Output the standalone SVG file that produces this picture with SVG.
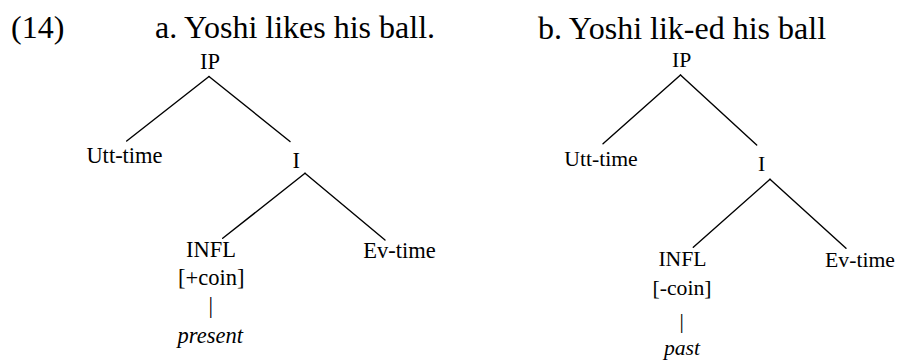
<svg xmlns="http://www.w3.org/2000/svg" width="897" height="360" viewBox="0 0 897 360">
<style>
text{font-family:"Liberation Serif","Times New Roman",serif;fill:#000}
.t{font-size:32px}
.a{font-size:22.5px;text-anchor:middle}
.b{font-size:21.7px;text-anchor:middle}
.i{font-style:italic}
.e{stroke:#000;stroke-width:1.4;fill:none;stroke-linecap:round}
</style>
<rect width="897" height="360" fill="#fff"/>
<g id="titles">
<text class="t" x="11" y="38">(14)</text>
<text class="t" x="155" y="38">a. Yoshi likes his ball.</text>
<text class="t" x="538" y="38.5">b. Yoshi lik-ed his ball</text>
</g>
<g id="connectors">
<line class="e" x1="209" y1="76.5" x2="126.7" y2="141"/>
<line class="e" x1="209" y1="76.5" x2="290" y2="141.5"/>
<line class="e" x1="305" y1="173.3" x2="222.7" y2="238.3"/>
<line class="e" x1="305" y1="173.3" x2="385" y2="240"/>
<line class="e" x1="680.5" y1="75" x2="603" y2="143.7"/>
<line class="e" x1="680.5" y1="75" x2="756.7" y2="145"/>
<line class="e" x1="770" y1="179.3" x2="693.3" y2="247.3"/>
<line class="e" x1="770" y1="179.3" x2="846" y2="248.3"/>
</g>
<g id="a-IP"><text class="a" x="210" y="69">IP</text></g>
<g id="a-Utt"><text class="a" x="124.5" y="163">Utt-time</text></g>
<g id="a-I"><text class="a" x="296.3" y="168">I</text></g>
<g id="a-INFL">
<text class="a" x="211" y="257">INFL</text>
<text class="a" x="211.3" y="285">[+coin]</text>
<text class="a" x="210.7" y="313">|</text>
<text class="a i" x="210.3" y="343">present</text>
</g>
<g id="a-Ev"><text class="a" x="399.5" y="257.5">Ev-time</text></g>
<g id="b-IP"><text class="b" x="681.7" y="67">IP</text></g>
<g id="b-Utt"><text class="b" x="601" y="165.7">Utt-time</text></g>
<g id="b-I"><text class="b" x="761.7" y="171">I</text></g>
<g id="b-INFL">
<text class="b" x="682.5" y="266">INFL</text>
<text class="b" x="682" y="295">[-coin]</text>
<text class="b" x="681.7" y="328">|</text>
<text class="b i" x="682" y="355">past</text>
</g>
<g id="b-Ev"><text class="b" x="860" y="267.3">Ev-time</text></g>
</svg>
